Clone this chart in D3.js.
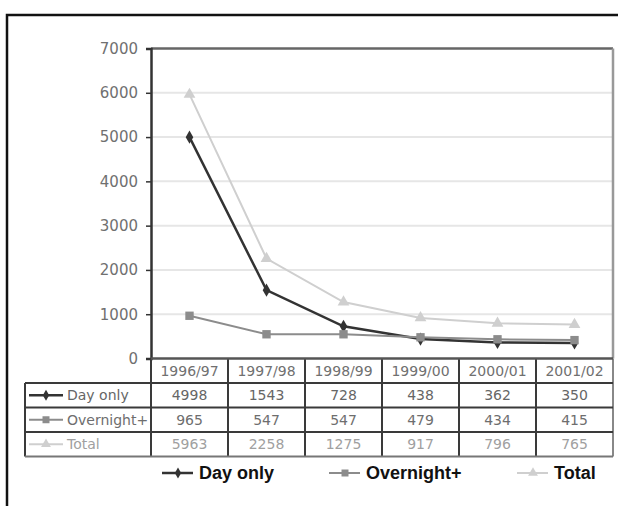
<!DOCTYPE html>
<html>
<head>
<meta charset="utf-8">
<script src="https://cdn.jsdelivr.net/npm/d3@7"></script>
<style>
  body { margin: 0; background: #fff; }
  svg { display: block; }
</style>
</head>
<body>
<svg id="chart"></svg>
<script>
// Data
const years = ["1996/97", "1997/98", "1998/99", "1999/00", "2000/01", "2001/02"];
const dayOnly = [4998, 1543, 728, 438, 362, 350];
const overnight = [965, 547, 547, 479, 434, 415];
const total = [5963, 2258, 1275, 917, 796, 765];
const yTicks = [0, 1000, 2000, 3000, 4000, 5000, 6000, 7000];

const series = [
  { name: "Day only", values: dayOnly, color: "#333", width: 2.5, marker: d3.symbolDiamond, msize: 50, text: "#666" },
  { name: "Overnight+", values: overnight, color: "#8c8c8c", width: 2, marker: d3.symbolSquare, msize: 70, text: "#6e6e6e" },
  { name: "Total", values: total, color: "#cfcfcf", width: 2, marker: d3.symbolTriangle, msize: 60, text: "#a0a0a0" },
];

const width = 618;
const height = 506;
const svg = d3.select("#chart").attr("width", width).attr("height", height);

// Frame (goes past the right and bottom edges)
svg.append("rect")
  .attr("x", 7).attr("y", 15)
  .attr("width", 640).attr("height", 520)
  .attr("fill", "none").attr("stroke", "#111").attr("stroke-width", 2.5);

// Scales
const plot = { left: 151, right: 613, top: 48.5, bottom: 358.5 };
const x = d3.scaleBand().domain(years).range([plot.left, plot.right]);
const y = d3.scaleLinear().domain([0, 7000]).range([plot.bottom, plot.top]);

// Gridlines
svg.append("g")
  .selectAll("line")
  .data(yTicks.filter((t) => t > 0 && t < 7000))
  .join("line")
  .attr("x1", plot.left).attr("x2", plot.right)
  .attr("y1", (d) => y(d)).attr("y2", (d) => y(d))
  .attr("stroke", "#e6e6e6").attr("stroke-width", 2);

// Plot border top / right
svg.append("line")
  .attr("x1", plot.left).attr("x2", plot.right)
  .attr("y1", y(7000)).attr("y2", y(7000))
  .attr("stroke", "#666").attr("stroke-width", 2.5);
svg.append("line")
  .attr("x1", plot.right).attr("x2", plot.right)
  .attr("y1", y(7000)).attr("y2", plot.bottom)
  .attr("stroke", "#999").attr("stroke-width", 2.5);

// Y axis
const yAxis = svg.append("g")
  .attr("transform", `translate(${plot.left},0)`)
  .call(d3.axisLeft(y).tickValues(yTicks).tickSize(5).tickPadding(8).tickFormat(d3.format("d")));
yAxis.select(".domain").attr("stroke", "#333").attr("stroke-width", 2.5);
yAxis.selectAll(".tick line").attr("stroke", "#333").attr("stroke-width", 1.5);
yAxis.selectAll(".tick text")
  .attr("fill", "#707070")
  .style("font-family", "DejaVu Sans")
  .style("font-size", "15px");

// Lines + markers
const line = d3.line()
  .x((d, i) => x(years[i]) + x.bandwidth() / 2)
  .y((d) => y(d));

series.forEach((s) => {
  svg.append("path")
    .datum(s.values)
    .attr("fill", "none")
    .attr("stroke", s.color)
    .attr("stroke-width", s.width)
    .attr("d", line);
  svg.append("g")
    .selectAll("path")
    .data(s.values)
    .join("path")
    .attr("transform", (d, i) => `translate(${x(years[i]) + x.bandwidth() / 2},${y(d)})`)
    .attr("d", d3.symbol().type(s.marker).size(s.msize))
    .attr("fill", s.color);
});

// Data table
const rows = d3.scaleBand()
  .domain(["header"].concat(series.map((s) => s.name)))
  .range([358.5, 456.5]);
const labelLeft = 25;
const font = "DejaVu Sans";

const table = svg.append("g");

// header cells
table.selectAll(".hdr")
  .data(years)
  .join("text")
  .attr("x", (d) => x(d) + x.bandwidth() / 2)
  .attr("y", rows("header") + rows.bandwidth() / 2 + 5)
  .attr("text-anchor", "middle")
  .attr("fill", "#707070")
  .style("font-family", font)
  .style("font-size", "14px")
  .text((d) => d);

// value rows
series.forEach((s) => {
  const cy = rows(s.name) + rows.bandwidth() / 2;
  table.append("g")
    .selectAll("text")
    .data(s.values)
    .join("text")
    .attr("x", (d, i) => x(years[i]) + x.bandwidth() / 2)
    .attr("y", cy + 5)
    .attr("text-anchor", "middle")
    .attr("fill", s.text)
    .style("font-family", font)
    .style("font-size", "14px")
    .text((d) => d);
  // key in the label column
  table.append("line")
    .attr("x1", labelLeft + 4).attr("x2", labelLeft + 38)
    .attr("y1", cy).attr("y2", cy)
    .attr("stroke", s.color).attr("stroke-width", s.width);
  table.append("path")
    .attr("transform", `translate(${labelLeft + 21},${cy})`)
    .attr("d", d3.symbol().type(s.marker).size(s.msize * 0.7))
    .attr("fill", s.color);
  table.append("text")
    .attr("x", labelLeft + 42)
    .attr("y", cy + 5)
    .attr("fill", s.text)
    .style("font-family", font)
    .style("font-size", "14px")
    .text(s.name);
});

// table grid lines
const gridColor = "#3a3a3a";
const vx = years.map((d) => x(d)).concat([plot.right]);
table.selectAll(".vline")
  .data(vx)
  .join("line")
  .attr("x1", (d) => d).attr("x2", (d) => d)
  .attr("y1", rows("header")).attr("y2", 456.5)
  .attr("stroke", (d, i) => (i === vx.length - 1 ? "#888" : gridColor))
  .attr("stroke-width", 2);
table.append("line")
  .attr("x1", labelLeft).attr("x2", labelLeft)
  .attr("y1", rows("Day only")).attr("y2", 456.5)
  .attr("stroke", gridColor).attr("stroke-width", 2);
const hy = [rows("Day only"), rows("Overnight+"), rows("Total"), 456.5];
table.selectAll(".hline")
  .data(hy)
  .join("line")
  .attr("x1", labelLeft).attr("x2", plot.right)
  .attr("y1", (d) => d).attr("y2", (d) => d)
  .attr("stroke", (d, i) => (i === hy.length - 1 ? "#777" : gridColor))
  .attr("stroke-width", 2);
table.append("line")
  .attr("x1", plot.left).attr("x2", plot.right)
  .attr("y1", rows("header")).attr("y2", rows("header"))
  .attr("stroke", "#555").attr("stroke-width", 2.5);

// Legend
const legendX = [162, 329, 517];
const legend = svg.append("g");
series.forEach((s, i) => {
  const lx = legendX[i];
  const ly = 473;
  legend.append("line")
    .attr("x1", lx).attr("x2", lx + 31)
    .attr("y1", ly).attr("y2", ly)
    .attr("stroke", s.color).attr("stroke-width", s.width);
  legend.append("path")
    .attr("transform", `translate(${lx + 16},${ly})`)
    .attr("d", d3.symbol().type(s.marker).size(s.msize * 0.7))
    .attr("fill", s.color);
  legend.append("text")
    .attr("x", lx + 37)
    .attr("y", ly + 6)
    .attr("fill", "#111")
    .style("font-family", "Liberation Sans")
    .style("font-weight", "bold")
    .style("font-size", "18px")
    .text(s.name);
});
</script>
</body>
</html>
